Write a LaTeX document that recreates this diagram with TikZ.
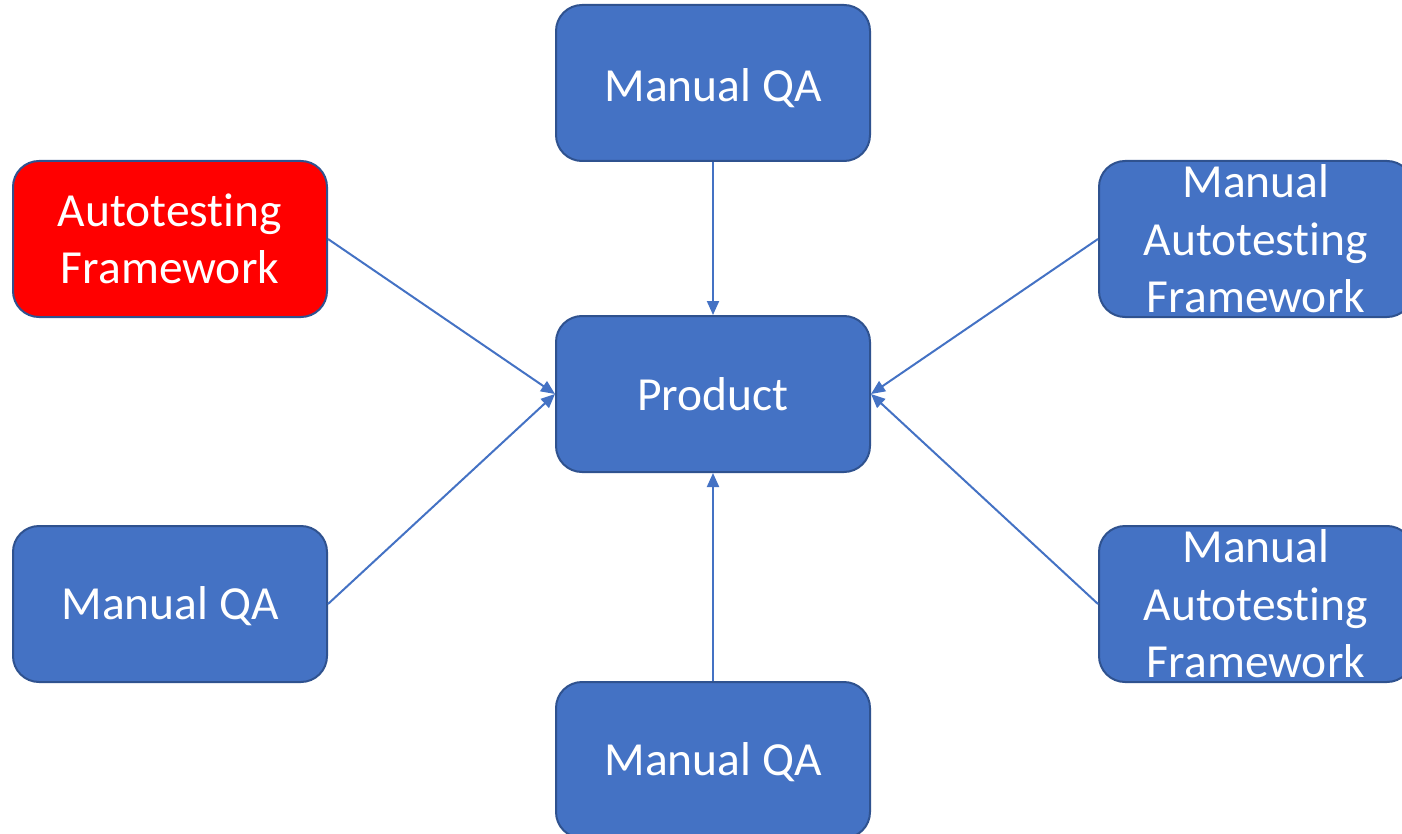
\documentclass[tikz,border=0pt]{standalone}
\usepackage{fontspec}
\setmainfont{Carlito}[Ligatures={NoCommon}]
\usetikzlibrary{arrows.meta}
\definecolor{boxblue}{HTML}{4472C4}
\definecolor{boxedge}{HTML}{2F528F}
\definecolor{alertred}{HTML}{FF0000}
\tikzset{
  card/.style={draw=boxedge, line width=2pt, fill=boxblue, rounded corners=26pt,
    minimum width=314pt, minimum height=156pt, inner sep=0pt},
  alertcard/.style={card, fill=alertred},
  cardtext/.style={text=white, align=center, inner sep=0pt,
    font=\fontsize{47.5}{57.5}\selectfont},
  onelinetext/.style={cardtext, text height=30.6pt, text depth=0pt},
  feed/.style={draw=boxblue, line width=2pt,
    -{Triangle[length=14pt, width=12pt]}}
}
\begin{document}
\begin{tikzpicture}[x=1pt, y=-1pt]
  \clip (0,0) rectangle (1402,834);
  % boxes
  \node[card]      (qatop)   at (713,83)   {};
  \node[card]      (product) at (713,394)  {};
  \node[alertcard] (atf)     at (170,239)  {};
  \node[card]      (matfa)   at (1256,239) {};
  \node[card]      (qaleft)  at (170,604)  {};
  \node[card]      (matfb)   at (1256,604) {};
  \node[card]      (qabot)   at (713,760)  {};
  % labels (y grows downwards, so a negative canvas shift lowers the text)
  \node[onelinetext] (tqatop)   at ([yshift=-3pt]qatop.center)   {Manual QA};
  \node[onelinetext] (tproduct) at ([yshift=-1pt]product.center) {Product};
  \node[cardtext]    (tatf)     at (atf.center)     {Autotesting\\Framework};
  \node[cardtext]    (tmatfa)   at (matfa.center)   {Manual\\Autotesting\\Framework};
  \node[onelinetext] (tqaleft)  at (qaleft.center)  {Manual QA};
  \node[cardtext]    (tmatfb)   at (matfb.center)   {Manual\\Autotesting\\Framework};
  \node[onelinetext] (tqabot)   at (qabot.center)   {Manual QA};
  % connectors into the product
  \draw[feed] (qatop.south) -- (product.north);
  \draw[feed] (qabot.north) -- (product.south);
  \draw[feed] (atf.east)    -- (product.west);
  \draw[feed] (qaleft.east) -- (product.west);
  \draw[feed] (matfa.west)  -- (product.east);
  \draw[feed] (matfb.west)  -- (product.east);
\end{tikzpicture}
\end{document}
